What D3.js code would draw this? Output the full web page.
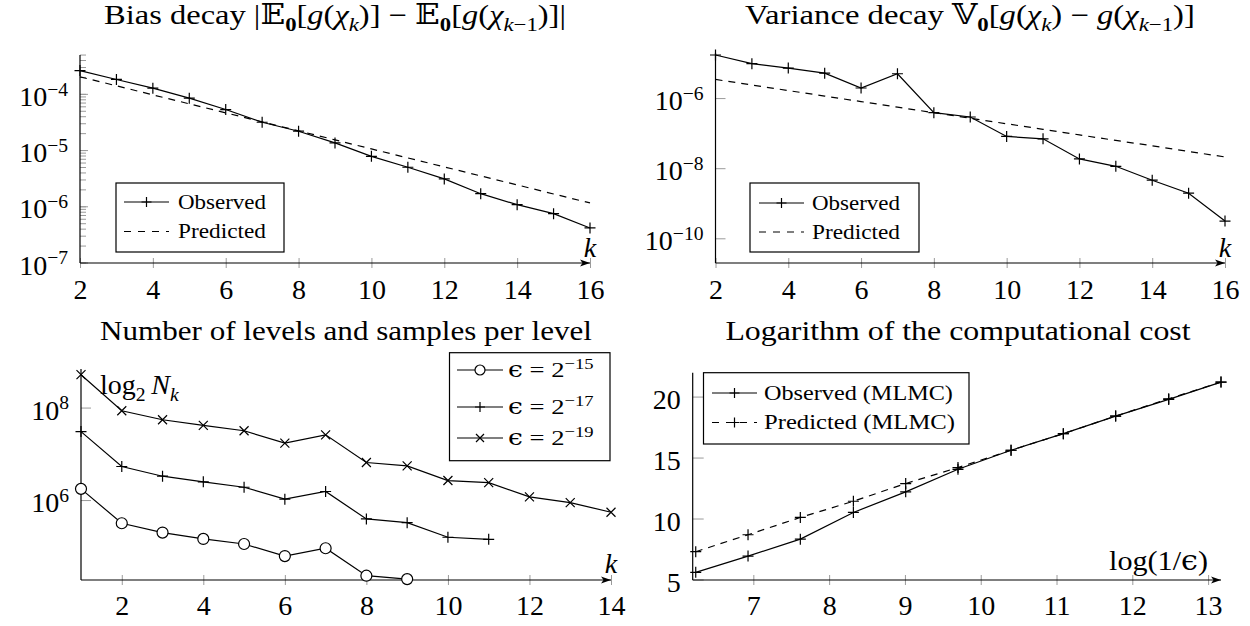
<!DOCTYPE html>
<html><head><meta charset="utf-8">
<script src="https://cdn.jsdelivr.net/npm/d3@7"></script>
<style>body{margin:0;background:#fff}</style>
</head><body>
<svg id="c" width="1250" height="626" font-family="Liberation Serif"></svg>
<script>
// ---------------- DATA ----------------
const kLevels = [2,3,4,5,6,7,8,9,10,11,12,13,14,15,16];
const biasObserved  = [2.65e-4,1.84e-4,1.29e-4,8.55e-5,5.37e-5,3.19e-5,2.21e-5,1.37e-5,7.9e-6,5.05e-6,3.13e-6,1.71e-6,1.09e-6,7.55e-7,4.2e-7];
const biasPredicted = [2.05e-4,1.42e-4,9.8e-5,6.78e-5,4.69e-5,3.24e-5,2.24e-5,1.55e-5,1.07e-5,7.4e-6,5.12e-6,3.54e-6,2.45e-6,1.69e-6,1.17e-6];
const varObserved   = [1.75e-5,9.9e-6,7.4e-6,5.3e-6,2.0e-6,5.1e-6,3.96e-7,2.98e-7,8.3e-8,7.1e-8,1.9e-8,1.17e-8,4.7e-9,2.0e-9,3.2e-10];
const varPredicted  = [3.51e-6,2.44e-6,1.69e-6,1.18e-6,8.2e-7,5.7e-7,3.96e-7,2.75e-7,1.91e-7,1.33e-7,9.2e-8,6.4e-8,4.5e-8,3.1e-8,2.16e-8];

const kEps15 = [1,2,3,4,5,6,7,8,9];
const nEps15 = [1.79e6,3.23e5,2.03e5,1.48e5,1.15e5,6.3e4,9.3e4,2.37e4,2.0e4];
const kEps17 = [1,2,3,4,5,6,7,8,9,10,11];
const nEps17 = [3.1e7,5.45e6,3.36e6,2.54e6,1.94e6,1.07e6,1.57e6,4.0e5,3.33e5,1.61e5,1.45e5];
const kEps19 = [1,2,3,4,5,6,7,8,9,10,11,12,13,14];
const nEps19 = [5.27e8,8.75e7,5.59e7,4.21e7,3.23e7,1.75e7,2.64e7,6.65e6,5.63e6,2.71e6,2.45e6,1.2e6,9.05e5,5.59e5];

const logInvEps    = [6.24,6.93,7.62,8.32,9.01,9.70,10.40,11.09,11.78,12.48,13.17];
const costObserved = [5.63,6.96,8.35,10.54,12.23,14.08,15.64,17.0,18.44,19.81,21.23];
const costPredicted= [7.32,8.71,10.13,11.46,12.91,14.22,15.64,17.0,18.44,19.86,21.23];

const xTicksDecay  = [2,4,6,8,10,12,14,16];
const xTicksLevels = [2,4,6,8,10,12,14];
const xTicksCost   = [7,8,9,10,11,12,13];
const yTicksBias   = [-7,-6,-5,-4];
const yTicksVar    = [-10,-8,-6];
const yTicksLevels = [6,8];
const yTicksCost   = [5,10,15,20];

// ---------------- HELPERS ----------------
const FONT = 'Liberation Serif';
const svg = d3.select('#c');
svg.append('rect').attr('width',1250).attr('height',626).attr('fill','#fff');
const defs = svg.append('defs');
defs.append('marker').attr('id','arr').attr('viewBox','0 0 10 10').attr('refX',10).attr('refY',5)
  .attr('markerWidth',10).attr('markerHeight',10).attr('markerUnits','userSpaceOnUse').attr('orient','auto')
  .append('path').attr('d','M0,1.5 L10,5 L0,8.5 L2.5,5 Z').attr('fill','#000');

const TICK = '#9a9a9a';
const FS = 28;

function rich(g, x, y, parts, size, anchor){
  const t = g.append('text').attr('x',x).attr('y',y).attr('font-size',size)
    .attr('font-family',FONT).style('font-family',"'Liberation Serif'").attr('fill','#000').attr('text-anchor',anchor||'start');
  let shift = 0;
  parts.forEach(p=>{
    if (typeof p === 'string') p = {t:p};
    const ts = t.append('tspan').text(p.t);
    let target = 0;
    if (p.sub) target = size*0.25;
    if (p.sup) target = -size*0.36;
    ts.attr('dy', target-shift); shift = target;
    if (p.sub||p.sup) ts.attr('font-size', size*0.7);
    if (p.i) ts.attr('font-style','italic');
    if (p.b) ts.attr('font-weight','bold');
    if (p.f) ts.style('font-family', p.f);
  });
  return t;
}
// widen a text horizontally about its anchor point so that it spans the target width
function fit(t, target){
  const w = t.node().getBBox().width;
  const s = target / w;
  const x = +t.attr('x'), y = +t.attr('y');
  t.attr('transform', `translate(${x},${y}) scale(${s.toFixed(4)},1) translate(${-x},${-y})`);
  return t;
}
function plusPath(s){return `M${-s},0H${s}M0,${-s}V${s}`;}
function crossPath(s){return `M${-s},${-s}L${s},${s}M${-s},${s}L${s},${-s}`;}

function drawMarkers(g, xs, ys, x, y, type){
  const sel = g.selectAll(null).data(xs.map((d,i)=>[d,ys[i]])).enter();
  if (type==='plus') sel.append('path').attr('d',plusPath(5.5)).attr('transform',d=>`translate(${x(d[0])},${y(d[1])})`).attr('stroke','#000').attr('stroke-width',1.2).attr('fill','none');
  if (type==='cross') sel.append('path').attr('d',crossPath(4.5)).attr('transform',d=>`translate(${x(d[0])},${y(d[1])})`).attr('stroke','#000').attr('stroke-width',1.2).attr('fill','none');
  if (type==='circle') sel.append('circle').attr('cx',d=>x(d[0])).attr('cy',d=>y(d[1])).attr('r',5.5).attr('stroke','#000').attr('stroke-width',1.2).attr('fill','#fff');
}
function drawLine(g, xs, ys, x, y, dashed){
  const line = d3.line().x(d=>x(d[0])).y(d=>y(d[1]));
  g.append('path').attr('d', line(xs.map((d,i)=>[d,ys[i]]))).attr('fill','none').attr('stroke','#000')
   .attr('stroke-width',1.2).attr('stroke-dasharray', dashed? '7,6': null);
}

function axes(g, x, y, xTicks, opt){
  const [x0,x1] = x.range(); const [yb,yt] = y.range();
  const ax = g.append('g').attr('transform',`translate(0,${yb})`)
    .call(d3.axisBottom(x).tickValues(xTicks).tickSize(0).tickFormat(d3.format('d')));
  ax.attr('font-family',FONT).attr('font-size',FS);
  ax.select('.domain').remove();
  ax.selectAll('.tick').append('line').attr('y1',-5).attr('y2',5).attr('stroke',TICK).attr('stroke-width',1);
  ax.selectAll('.tick text').attr('y',opt.xLabelDy).attr('dy',0).attr('font-size',FS)
    .attr('font-family',FONT).style('font-family',"'Liberation Serif'").attr('fill','#000');
  const ay = g.append('g').attr('transform',`translate(${x0},0)`);
  if (opt.minor) {
    ay.selectAll(null).data(opt.minor).enter().append('line')
      .attr('x1',0).attr('x2',opt.minorLen).attr('y1',d=>y(d)).attr('y2',d=>y(d)).attr('stroke',TICK);
  }
  ay.selectAll(null).data(opt.yTicks).enter().append('line')
    .attr('x1',0).attr('x2',opt.tickLen).attr('y1',d=>y(opt.yVal(d))).attr('y2',d=>y(opt.yVal(d))).attr('stroke',TICK);
  opt.yTicks.forEach(d=>{
    const yy = y(opt.yVal(d)) + 11.5;
    if (opt.log) rich(g, x0-12, yy, ['10',{t:(d<0?'\u2212':'')+Math.abs(d),sup:true}], FS, 'end');
    else g.append('text').attr('x',x0-12).attr('y',yy).attr('font-size',FS).attr('font-family',FONT).style('font-family',"'Liberation Serif'").attr('text-anchor','end').text(d);
  });
  g.append('line').attr('x1',x0).attr('x2',x0).attr('y1',yb).attr('y2',yt).attr('stroke','#000').attr('stroke-width',1.2);
  g.append('line').attr('x1',x0).attr('x2',x1).attr('y1',yb).attr('y2',yb).attr('stroke','#000').attr('stroke-width',1.2).attr('marker-end','url(#arr)');
}

function legend(g, box, rows){
  g.append('rect').attr('x',box[0]).attr('y',box[1]).attr('width',box[2]-box[0]).attr('height',box[3]-box[1])
    .attr('fill','#fff').attr('stroke','#000').attr('stroke-width',1.2);
  rows.forEach(r=>{
    g.append('line').attr('x1',r.lx0).attr('x2',r.lx1).attr('y1',r.y).attr('y2',r.y).attr('stroke','#000')
      .attr('stroke-width',1.2).attr('stroke-dasharray', r.dashed?'7,7':null);
    const mx = (r.lx0+r.lx1)/2;
    if (r.marker==='plus') g.append('path').attr('d',plusPath(5)).attr('transform',`translate(${mx},${r.y})`).attr('stroke','#000').attr('stroke-width',1.2);
    if (r.marker==='cross') g.append('path').attr('d',crossPath(4)).attr('transform',`translate(${mx},${r.y})`).attr('stroke','#000').attr('stroke-width',1.2);
    if (r.marker==='circle') g.append('circle').attr('cx',mx).attr('cy',r.y).attr('r',5).attr('stroke','#000').attr('stroke-width',1.2).attr('fill','#fff');
    const t = rich(g, r.tx, r.y+7, r.parts, 22, 'start');
    if (r.w) fit(t, r.w);
  });
}

const MF = "'DejaVu Serif','DejaVu Sans',serif";
const bbE = {t:'\u{1D53C}', f:MF};
const bbV = {t:'\u{1D54D}', f:MF};

function plainText(g, x, y, size, txt, opts){
  const t = g.append('text').attr('x',x).attr('y',y).attr('font-size',size).attr('font-family',FONT)
    .style('font-family',"'Liberation Serif'").attr('fill','#000').attr('text-anchor',(opts&&opts.anchor)||'start').text(txt);
  if (opts && opts.italic) t.attr('font-style','italic');
  return t;
}

// ---------------- PANEL 1: Bias ----------------
{
  const g = svg.append('g');
  const x = d3.scaleLinear().domain([2,16]).range([80,590]);
  const y = d3.scaleLog().domain([1e-7, Math.pow(10,-3.30)]).range([263,55]);
  const minor = [];
  for (let e=-7;e<=-4;e++) for (let m=1;m<=9;m++){ const v=m*Math.pow(10,e); if (v>=1e-7 && v<=y.domain()[1]) minor.push(v); }
  axes(g, x, y, xTicksDecay, {xLabelDy:36, yTicks:yTicksBias, yVal:d=>Math.pow(10,d), log:true, tickLen:8, minor, minorLen:6});
  drawLine(g, kLevels, biasPredicted, x, y, true);
  drawLine(g, kLevels, biasObserved, x, y, false);
  drawMarkers(g, kLevels, biasObserved, x, y, 'plus');
  plainText(g, 590, 257, FS, 'k', {anchor:'middle', italic:true});
  legend(g, [116,183,284,252], [
    {lx0:124,lx1:169,y:202,marker:'plus',tx:178,parts:['Observed'],w:88},
    {lx0:124,lx1:169,y:231.5,dashed:true,tx:178,parts:['Predicted'],w:88}
  ]);
  const t = rich(g, 335, 24, ['Bias decay |', bbE, {t:'0',sub:true,b:true}, '[', {t:'g',i:true}, '(', {t:'\u03C7',i:true}, {t:'k',sub:true,i:true},
     ')] \u2212 ', bbE, {t:'0',sub:true,b:true}, '[', {t:'g',i:true}, '(', {t:'\u03C7',i:true}, {t:'k',sub:true,i:true}, {t:'\u22121',sub:true}, ')]|'], 27, 'middle');
  fit(t, 462);
}
// ---------------- PANEL 2: Variance ----------------
{
  const g = svg.append('g');
  const x = d3.scaleLinear().domain([2,16]).range([715.5,1225]);
  const y = d3.scaleLog().domain([Math.pow(10,-10.69), Math.pow(10,-4.70)]).range([263,53]);
  axes(g, x, y, xTicksDecay, {xLabelDy:36, yTicks:yTicksVar, yVal:d=>Math.pow(10,d), log:true, tickLen:10});
  drawLine(g, kLevels, varPredicted, x, y, true);
  drawLine(g, kLevels, varObserved, x, y, false);
  drawMarkers(g, kLevels, varObserved, x, y, 'plus');
  plainText(g, 1225, 257, FS, 'k', {anchor:'middle', italic:true});
  legend(g, [750,183,919,252], [
    {lx0:759,lx1:804,y:203,marker:'plus',tx:812,parts:['Observed'],w:88},
    {lx0:759,lx1:804,y:232,dashed:true,tx:812,parts:['Predicted'],w:88}
  ]);
  const t = rich(g, 970, 24, ['Variance decay ', bbV, {t:'0',sub:true,b:true}, '[', {t:'g',i:true}, '(', {t:'\u03C7',i:true}, {t:'k',sub:true,i:true},
     ') \u2212 ', {t:'g',i:true}, '(', {t:'\u03C7',i:true}, {t:'k',sub:true,i:true}, {t:'\u22121',sub:true}, ')]'], 27, 'middle');
  fit(t, 450);
}
// ---------------- PANEL 3: Levels ----------------
{
  const g = svg.append('g');
  const x = d3.scaleLinear().domain([1,14]).range([81,611]);
  const y = d3.scaleLog().domain([Math.pow(10,4.282), Math.pow(10,8.845)]).range([580,369]);
  axes(g, x, y, xTicksLevels, {xLabelDy:35, yTicks:yTicksLevels, yVal:d=>Math.pow(10,d), log:true, tickLen:10});
  drawLine(g, kEps15, nEps15, x, y, false);
  drawLine(g, kEps17, nEps17, x, y, false);
  drawLine(g, kEps19, nEps19, x, y, false);
  drawMarkers(g, kEps15, nEps15, x, y, 'circle');
  drawMarkers(g, kEps17, nEps17, x, y, 'plus');
  drawMarkers(g, kEps19, nEps19, x, y, 'cross');
  plainText(g, 611, 573, FS, 'k', {anchor:'middle', italic:true});
  rich(g, 100, 394, ['log', {t:'2',sub:true}, {t:'\u2009'}, {t:'N',i:true}, {t:'k',sub:true,i:true}], FS, 'start');
  legend(g, [449.5,352.7,610,460.7], [
    {lx0:457,lx1:503,y:370,marker:'circle',tx:508,parts:[{t:'\u03F5',f:MF},' = 2',{t:'\u221215',sup:true}],w:86},
    {lx0:457,lx1:503,y:407,marker:'plus',tx:508,parts:[{t:'\u03F5',f:MF},' = 2',{t:'\u221217',sup:true}],w:86},
    {lx0:457,lx1:503,y:438,marker:'cross',tx:508,parts:[{t:'\u03F5',f:MF},' = 2',{t:'\u221219',sup:true}],w:86}
  ]);
  const t = plainText(g, 346, 340, 27, 'Number of levels and samples per level', {anchor:'middle'});
  fit(t, 492);
}
// ---------------- PANEL 4: Cost ----------------
{
  const g = svg.append('g');
  const x = d3.scaleLinear().domain([6.2,13.17]).range([692.7,1221]);
  const y = d3.scaleLinear().domain([5,22]).range([580,372.7]);
  axes(g, x, y, xTicksCost, {xLabelDy:35, yTicks:yTicksCost, yVal:d=>d, log:false, tickLen:11});
  drawLine(g, logInvEps, costPredicted, x, y, true);
  drawLine(g, logInvEps, costObserved, x, y, false);
  drawMarkers(g, logInvEps, costPredicted, x, y, 'plus');
  drawMarkers(g, logInvEps, costObserved, x, y, 'plus');
  const lt = rich(g, 1208, 570, ['log(1/', {t:'\u03F5',f:MF}, ')'], FS, 'end');
  fit(lt, 99);
  legend(g, [703.5,372.7,969,444], [
    {lx0:712,lx1:757,y:393,marker:'plus',tx:764,parts:['Observed (MLMC)'],w:189},
    {lx0:712,lx1:757,y:422.5,dashed:true,marker:'plus',tx:764,parts:['Predicted (MLMC)'],w:191}
  ]);
  const t = plainText(g, 958, 340, 27, 'Logarithm of the computational cost', {anchor:'middle'});
  fit(t, 466);
}
</script>
</body></html>
